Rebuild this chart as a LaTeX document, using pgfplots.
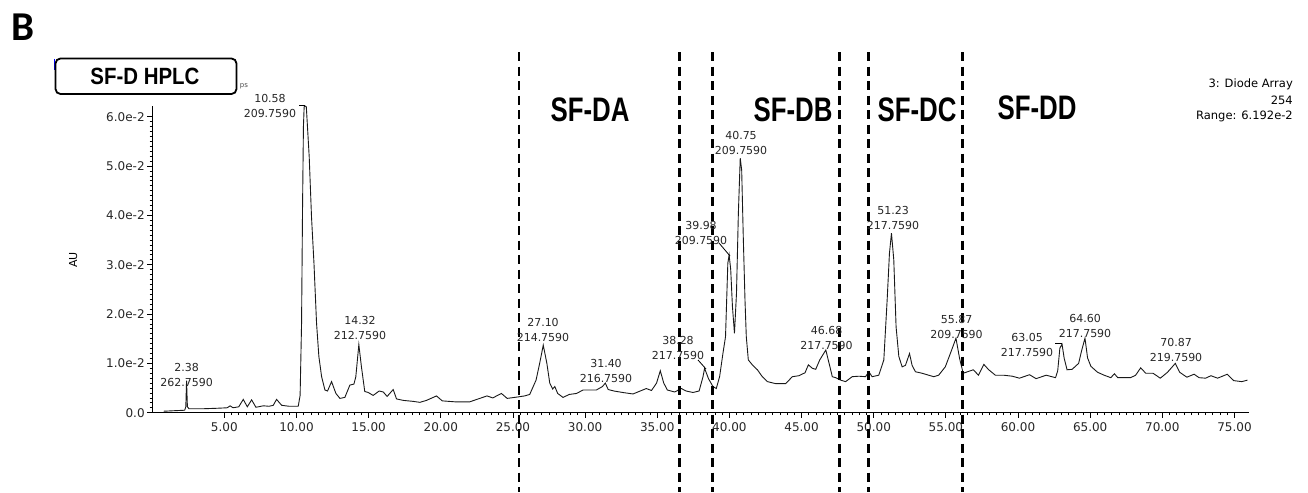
\documentclass[border=0pt]{standalone}
\usepackage{fontspec}
\setmainfont{DejaVu Sans}
\newfontfamily\libsans{Liberation Sans}
\newfontfamily\carlito{Carlito}
\usepackage{graphicx}
\usepackage{pgfplots}
\pgfplotsset{compat=1.18}
\usepackage{pgfplotstable}

\pgfplotstableread{
x y
0.80 0.0003
1.50 0.0004
2.25 0.0005
2.33 0.0012
2.38 0.0065
2.44 0.0012
2.55 0.0008
3.50 0.0008
4.50 0.0009
5.20 0.0010
5.40 0.0014
5.60 0.0010
6.00 0.0012
6.31 0.0027
6.59 0.0012
6.89 0.0026
7.19 0.0011
7.70 0.0014
8.10 0.0013
8.39 0.0015
8.62 0.0027
8.97 0.0015
9.50 0.0013
10.12 0.0013
10.25 0.0035
10.35 0.0180
10.42 0.0420
10.48 0.0580
10.53 0.0620
10.58 0.0622
10.68 0.0620
10.74 0.0590
10.88 0.0519
11.04 0.0397
11.21 0.0303
11.39 0.0181
11.55 0.0114
11.74 0.0073
11.97 0.0046
12.15 0.0044
12.43 0.0063
12.73 0.0039
13.01 0.0029
13.35 0.0031
13.70 0.0056
13.98 0.0058
14.11 0.0073
14.32 0.0138
14.50 0.0093
14.73 0.0043
14.97 0.0041
15.31 0.0035
15.73 0.0044
16.01 0.0042
16.28 0.0033
16.70 0.0047
16.93 0.0028
17.39 0.0025
18.08 0.0023
18.55 0.0021
19.01 0.0025
19.70 0.0034
20.10 0.0024
21.00 0.0022
22.00 0.0022
23.20 0.0034
23.60 0.0030
24.20 0.0039
24.60 0.0029
25.35 0.0032
25.80 0.0034
26.16 0.0037
26.60 0.0066
26.85 0.0100
27.10 0.0137
27.35 0.0100
27.55 0.0060
27.75 0.0048
27.90 0.0053
28.10 0.0039
28.47 0.0031
28.90 0.0037
29.40 0.0039
29.86 0.0046
30.78 0.0046
31.20 0.0053
31.40 0.0060
31.60 0.0047
32.00 0.0044
32.60 0.0041
33.32 0.0038
34.24 0.0049
34.60 0.0045
34.95 0.0060
35.21 0.0085
35.45 0.0060
35.70 0.0046
36.20 0.0042
36.67 0.0049
37.00 0.0044
37.47 0.0041
37.90 0.0044
38.17 0.0073
38.28 0.0090
38.55 0.0069
38.86 0.0053
39.09 0.0049
39.32 0.0073
39.55 0.0120
39.73 0.0154
39.89 0.0303
39.98 0.0320
40.09 0.0290
40.21 0.0215
40.35 0.0161
40.49 0.0242
40.62 0.0404
40.75 0.0516
40.85 0.0492
40.96 0.0357
41.08 0.0228
41.17 0.0154
41.31 0.0107
41.59 0.0097
41.94 0.0087
42.28 0.0073
42.63 0.0063
43.20 0.0059
43.90 0.0059
44.36 0.0073
44.82 0.0075
45.24 0.0081
45.47 0.0097
45.75 0.0090
45.98 0.0088
46.26 0.0107
46.68 0.0127
46.90 0.0101
47.13 0.0073
47.36 0.0071
47.71 0.0066
48.05 0.0063
48.51 0.0073
48.97 0.0074
49.43 0.0073
49.66 0.0083
49.89 0.0073
50.35 0.0076
50.70 0.0107
50.93 0.0228
51.09 0.0323
51.23 0.0364
51.39 0.0310
51.55 0.0174
51.74 0.0114
51.97 0.0093
52.20 0.0096
52.48 0.0120
52.66 0.0096
52.89 0.0083
53.35 0.0080
53.81 0.0076
54.16 0.0073
54.50 0.0076
54.96 0.0093
55.31 0.0120
55.70 0.0151
55.95 0.0110
56.20 0.0080
56.50 0.0083
56.90 0.0087
57.26 0.0076
57.63 0.0098
57.97 0.0087
58.43 0.0076
59.00 0.0076
59.60 0.0074
60.10 0.0070
60.80 0.0077
61.25 0.0069
61.95 0.0076
62.60 0.0071
62.75 0.0085
62.90 0.0131
63.05 0.0139
63.20 0.0110
63.40 0.0087
63.75 0.0088
64.20 0.0100
64.40 0.0125
64.64 0.0151
64.82 0.0111
65.05 0.0094
65.28 0.0088
65.51 0.0082
65.97 0.0076
66.43 0.0071
66.68 0.0079
66.91 0.0071
67.80 0.0071
68.15 0.0076
68.50 0.0091
68.85 0.0080
69.35 0.0080
69.86 0.0070
70.36 0.0082
70.90 0.0100
71.20 0.0082
71.70 0.0072
72.20 0.0078
72.55 0.0071
73.00 0.0070
73.37 0.0075
73.83 0.0070
74.50 0.0078
74.95 0.0065
75.50 0.0063
75.90 0.0066
}\chrom

\begin{document}
\begin{tikzpicture}
\begin{scope}[x=1pt,y=-1pt,shift={(-152.2pt,412.7pt)}]
\useasboundingbox (0,0) rectangle (1308,488);
\end{scope}
\begin{axis}[
  at={(0pt,0pt)}, anchor=south west,
  scale only axis, width=1096.8pt, height=306.8pt,
  xmin=0, xmax=76, ymin=0, ymax=0.0622,
  clip=false,
  axis x line*=bottom, axis y line*=left,
  axis line style={line width=1pt},
  tick align=outside,
  major tick length=5pt, minor tick length=2.5pt,
  tick style={line width=0.8pt, black},
  minor x tick num=9, minor y tick num=9,
  xtick={5,10,15,20,25,30,35,40,45,50,55,60,65,70,75},
  xticklabels={5.00,10.00,15.00,20.00,25.00,30.00,35.00,40.00,45.00,50.00,55.00,60.00,65.00,70.00,75.00},
  ytick={0,0.01,0.02,0.03,0.04,0.05,0.06},
  yticklabels={0.0,1.0e-2,2.0e-2,3.0e-2,4.0e-2,5.0e-2,6.0e-2},
  scaled y ticks=false, scaled x ticks=false,
  /pgf/number format/assume math mode=true,
  tick label style={font=\fontsize{12}{12}\selectfont, text=black!85},
  xticklabel style={yshift=-1pt},
  yticklabel style={xshift=1pt},
]
\addplot[black!90, line width=0.9pt, mark=none] table {\chrom};
\draw[line width=2.4pt, dash pattern=on 9pt off 5.5pt] (axis cs:25.40,0.0731) -- (axis cs:25.40,-0.0160);
\draw[line width=2.4pt, dash pattern=on 9pt off 5.5pt] (axis cs:36.55,0.0731) -- (axis cs:36.55,-0.0160);
\draw[line width=2.4pt, dash pattern=on 9pt off 5.5pt] (axis cs:38.83,0.0731) -- (axis cs:38.83,-0.0160);
\draw[line width=2.4pt, dash pattern=on 9pt off 5.5pt] (axis cs:47.63,0.0731) -- (axis cs:47.63,-0.0160);
\draw[line width=2.4pt, dash pattern=on 9pt off 5.5pt] (axis cs:49.64,0.0731) -- (axis cs:49.64,-0.0160);
\draw[line width=2.4pt, dash pattern=on 9pt off 5.5pt] (axis cs:56.15,0.0731) -- (axis cs:56.15,-0.0160);
\end{axis}
\begin{scope}[x=1pt,y=-1pt,shift={(-152.2pt,412.7pt)}]
% panel letter and title box
\node[font=\carlito\bfseries\fontsize{41}{41}\selectfont, inner sep=0pt] at (22.5,27) {B};
\draw[blue, line width=1.5pt] (54.5,59) -- (54.5,70);
\draw[line width=1.8pt, rounded corners=5pt] (55.5,58.5) rectangle (236.5,94);
\node[inner sep=0pt] at (145,76.5) {\scalebox{0.87}[1]{\libsans\bfseries\fontsize{23.5}{24}\selectfont SF-D HPLC}};
\node[inner sep=0pt, font=\fontsize{7}{8}\selectfont, text=black!70] at (244,86) {ps};
% fraction labels
\node[inner sep=0pt] at (590,110) {\scalebox{0.76}[1]{\libsans\bfseries\fontsize{34}{34}\selectfont SF-DA}};
\node[inner sep=0pt] at (793,110) {\scalebox{0.76}[1]{\libsans\bfseries\fontsize{34}{34}\selectfont SF-DB}};
\node[inner sep=0pt] at (917,110) {\scalebox{0.76}[1]{\libsans\bfseries\fontsize{34}{34}\selectfont SF-DC}};
\node[inner sep=0pt] at (1037,108) {\scalebox{0.76}[1]{\libsans\bfseries\fontsize{34}{34}\selectfont SF-DD}};
% detector info
\begin{scope}[every node/.style={inner sep=0pt, anchor=east, font=\fontsize{11.5}{12}\selectfont}]
\node at (1293,84) {3: Diode Array};
\node at (1293,100) {254};
\node at (1293,116) {Range: 6.192e-2};
\end{scope}
% y label
\node[rotate=90, inner sep=0pt, font=\fontsize{11}{12}\selectfont] at (73.3,260) {AU};
% peak labels
\begin{scope}[every node/.style={inner sep=0pt, align=center, font=\fontsize{11}{15}\selectfont, text=black!85}]
\node at (186.7,374.5) {2.38\\262.7590};
\node at (270,106) {10.58\\209.7590};
\node at (360,328) {14.32\\212.7590};
\node at (543,330) {27.10\\214.7590};
\node at (606,370.5) {31.40\\216.7590};
\node at (678,348) {38.28\\217.7590};
\node at (701,233) {39.98\\209.7590};
\node at (741,142.5) {40.75\\209.7590};
\node at (826.5,337.5) {46.68\\217.7590};
\node at (893,217.5) {51.23\\217.7590};
\node at (956.5,326.5) {55.87\\209.7590};
\node at (1027,345) {63.05\\217.7590};
\node at (1085,326) {64.60\\217.7590};
\node at (1176,349.5) {70.87\\219.7590};
\end{scope}
% leader lines
\draw[line width=0.8pt] (299,105.5) -- (305,105.5);
\draw[line width=0.8pt] (698,360) -- (706,369);
\draw[line width=0.8pt] (719,243) -- (730,256);
\draw[line width=0.8pt] (1055,343) -- (1062,343);
\end{scope}
\end{tikzpicture}
\end{document}
